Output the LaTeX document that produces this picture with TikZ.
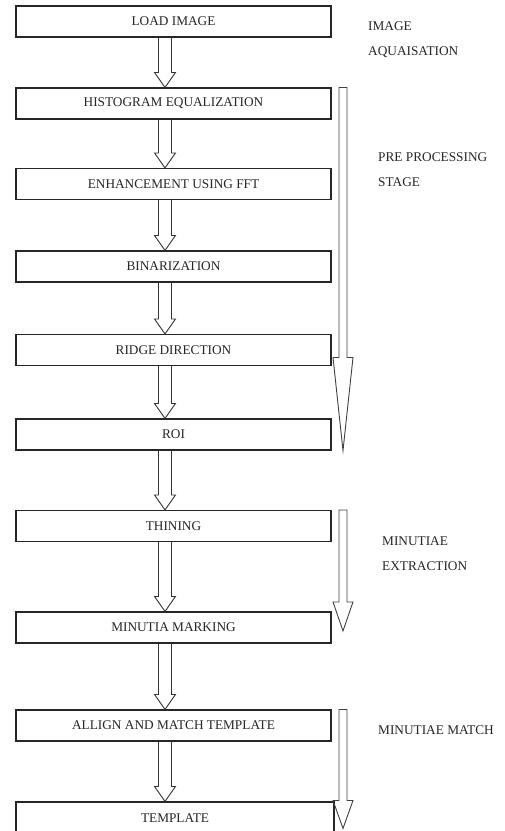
\documentclass[tikz,border=0pt]{standalone}
\usepackage{fontspec}
\setmainfont{Liberation Serif}
\usetikzlibrary{calc}
\tikzset{
  stepbox/.style={draw=black!85, line width=1.1pt, minimum width=315pt, minimum height=31pt, inner sep=0pt, font=\fontsize{13.3}{16}\selectfont, text=black!85},
  lbl/.style={anchor=west, align=left, inner sep=0pt, font=\fontsize{13.3}{25}\selectfont, text=black!85},
  arr/.style={draw=black!80, line width=0.9pt, line join=miter},
  bigarr/.style={draw=black!75, line width=0.9pt, line join=miter},
}
\newcommand{\flowarrow}[2]{%
  \draw[arr] ($(#1.south -| ax)+(-6.5,0)$) -- ($(#2.north -| ax)+(-6.5,-15)$) -- ++(-4,0)
    -- (#2.north -| ax) -- ++(10.5,-15) -- ++(-4,0) -- ($(#1.south -| ax)+(6.5,0)$);}
\begin{document}
\begin{tikzpicture}[x=1pt,y=-1pt]
\clip (0,0) rectangle (505,831);
\fill[white] (0,0) rectangle (505,831);
\coordinate (ax) at (165,0);
\coordinate (bx) at (343,0);
\node[stepbox] (b1) at (173.5,21.5) {LOAD IMAGE};
\node[stepbox] (b2) at (173.5,103.5) {HISTOGRAM EQUALIZATION};
\node[stepbox] (b3) at (173.5,184) {ENHANCEMENT USING FFT};
\node[stepbox] (b4) at (173.5,266.5) {BINARIZATION};
\node[stepbox] (b5) at (173.5,350) {RIDGE DIRECTION};
\node[stepbox] (b6) at (173.5,434.5) {ROI};
\node[stepbox] (b7) at (173.5,526) {THINING};
\node[stepbox] (b8) at (173.5,627.5) {MINUTIA MARKING};
\node[stepbox] (b9) at (173.5,725.5) {ALLIGN AND MATCH TEMPLATE};
\node[stepbox, minimum width=318pt, minimum height=32pt] (b10) at (175,818) {TEMPLATE};
\flowarrow{b1}{b2}
\flowarrow{b2}{b3}
\flowarrow{b3}{b4}
\flowarrow{b4}{b5}
\flowarrow{b5}{b6}
\flowarrow{b6}{b7}
\flowarrow{b7}{b8}
\flowarrow{b8}{b9}
\flowarrow{b9}{b10}
% stage arrows
\draw[bigarr] ($(b2.north -| bx)+(-4,0)$) -- ($(b2.north -| bx)+(-4,270)$) -- ++(-6,0)
  -- (b6.south -| bx) -- ($(b2.north -| bx)+(10,270)$) -- ++(-6,0) -- ($(b2.north -| bx)+(4,0)$) -- cycle;
\draw[bigarr] ($(b7.north -| bx)+(-4,0)$) -- ($(b7.north -| bx)+(-4,92)$) -- ++(-6,0)
  -- ($(b7.north -| bx)+(0,121)$) -- ($(b7.north -| bx)+(10,92)$) -- ++(-6,0) -- ($(b7.north -| bx)+(4,0)$) -- cycle;
\draw[bigarr] ($(b9.north -| bx)+(-4,0)$) -- ($(b9.north -| bx)+(-4,91)$) -- ++(-6,0)
  -- ($(b9.north -| bx)+(0,119)$) -- ($(b9.north -| bx)+(10,91)$) -- ++(-6,0) -- ($(b9.north -| bx)+(4,0)$) -- cycle;
\node[lbl] (l1) at (368,39.5) {IMAGE\\AQUAISATION};
\node[lbl] (l2) at (378,169.5) {PRE PROCESSING\\STAGE};
\node[lbl] (l3) at (382,553.5) {MINUTIAE\\EXTRACTION};
\node[lbl] (l4) at (378,730) {MINUTIAE MATCH};
\end{tikzpicture}
\end{document}
